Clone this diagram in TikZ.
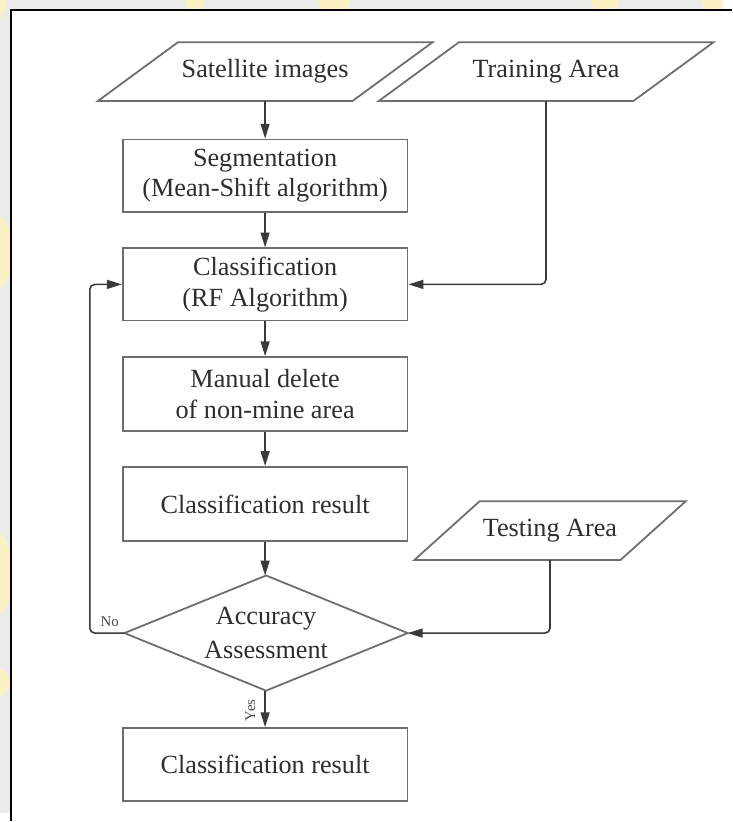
\documentclass[tikz,border=0pt]{standalone}
\usepackage{fontspec}
\setmainfont{Liberation Serif}
\usetikzlibrary{arrows.meta,calc}

\definecolor{pagegray}{HTML}{EBECEA}
\definecolor{markyellow}{HTML}{FBF1C2}
\definecolor{boxline}{HTML}{6E6E6E}
\definecolor{linkline}{HTML}{3A3A3A}
\definecolor{inktext}{HTML}{2E2E2E}
\definecolor{smalltext}{HTML}{4A4A4A}

\tikzset{
  procbox/.style={draw=boxline, line width=1.8pt, fill=white,
    minimum width=288pt, inner sep=0pt, align=center,
    font=\fontsize{26.5}{31}\selectfont, text=inktext},
  iobox/.style={minimum width=257pt, minimum height=59pt, inner sep=0pt,
    font=\fontsize{26.5}{31}\selectfont, text=inktext},
  decbox/.style={minimum width=286pt, minimum height=116pt, inner sep=0pt,
    align=center, font=\fontsize{26.5}{35}\selectfont, text=inktext},
  outline/.style={draw=boxline, line width=1.8pt, line join=miter},
  link/.style={draw=linkline, line width=1.6pt, rounded corners=5pt,
    -{Triangle[length=15pt,width=9pt]}},
  tag/.style={font=\fontsize{15}{17}\selectfont, text=smalltext, inner sep=0pt}
}

\begin{document}
\begin{tikzpicture}[x=1pt,y=-1pt]
  % page background with framed sheet
  \fill[pagegray] (0,0) rectangle (731,822);
  \begin{scope}
    \clip (0,0) rectangle (731,822);
    \fill[markyellow] (-6,-8) ellipse (14pt and 30pt);
    \fill[markyellow] (197,0) ellipse (10pt and 14pt);
    \fill[markyellow] (338,0) ellipse (16pt and 14pt);
    \fill[markyellow] (612,0) ellipse (14pt and 14pt);
    \fill[markyellow] (722,0) ellipse (12pt and 14pt);
    \fill[markyellow] (0,255) ellipse (12pt and 36pt);
    \fill[markyellow] (0,580) ellipse (12pt and 40pt);
    \fill[markyellow] (0,690) ellipse (10pt and 14pt);
  \end{scope}
  \fill[white] (11,10) rectangle (740,830);
  \draw[black, line width=2pt] (11,830) -- (11,10) -- (740,10);

  % data (input) nodes
  \node[iobox] (sat)   at (268,72.5)  {Satellite images};
  \node[iobox] (train) at (552,72.5)  {Training Area};
  \node[iobox, minimum width=208pt] (test) at (556,536.5) {Testing Area};
  \foreach \n/\s in {sat/40.5, train/40.5, test/33}
    \draw[outline] ([xshift=-\s pt]\n.south west) -- ([xshift=\s pt]\n.north west)
      -- ([xshift=\s pt]\n.north east) -- ([xshift=-\s pt]\n.south east) -- cycle;

  % processing steps
  \node[procbox, minimum height=73pt] (seg) at (268,177.5)
    {Segmentation\\(Mean-Shift algorithm)};
  \node[procbox, minimum height=73pt] (cls) at (268,287.5)
    {Classification\\(RF Algorithm)};
  \node[procbox, minimum height=75pt] (man) at (268,398.5)
    {Manual delete\\of non-mine area};
  \node[procbox, minimum height=75pt] (res) at (268,509.5)
    {Classification result};

  % decision
  \node[decbox] (acc) at (269,640) {Accuracy\\Assessment};
  \draw[outline] (acc.north) -- (acc.east) -- (acc.south) -- (acc.west) -- cycle;

  \node[procbox, minimum height=74pt] (fin) at (268,773)
    {Classification result};

  % connectors
  \draw[link] (sat.south) -- (seg.north);
  \draw[link] (seg.south) -- (cls.north);
  \draw[link] (cls.south) -- (man.north);
  \draw[link] (man.south) -- (res.north);
  \draw[link] (res.south) -- (res.south |- acc.north);
  \draw[link] (acc.south -| fin.north) -- (fin.north);
  \draw[link] (train.south) |- (cls.east);
  \draw[link] (test.south) |- (acc.east);
  \draw[link] (acc.west) -- ++(-35,0) |- (cls.west);

  % branch labels
  \node[tag] (no) at (111,629) {No};
  \node[tag, rotate=90] (yes) at (253,718) {Yes};
\end{tikzpicture}
\end{document}
